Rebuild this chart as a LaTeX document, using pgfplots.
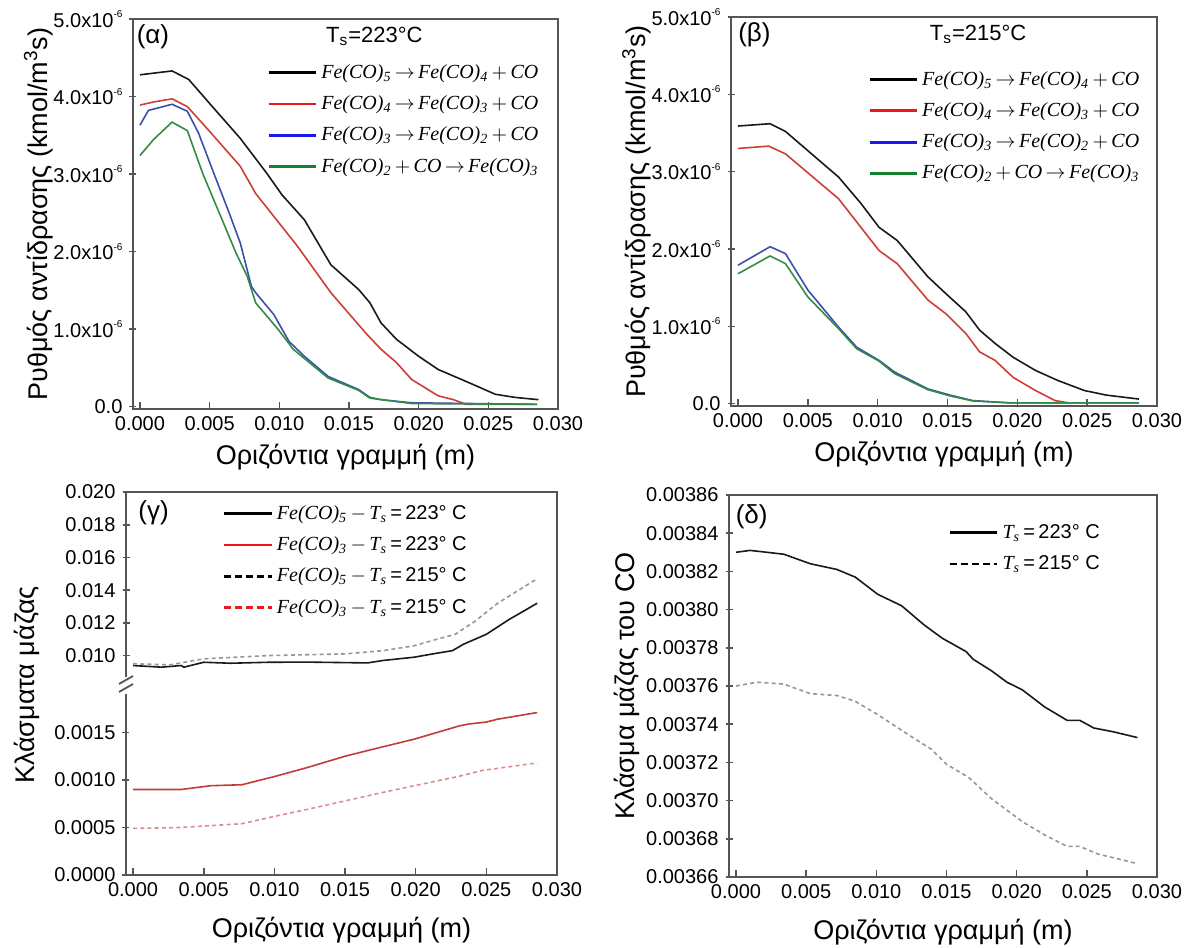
\documentclass[border=0pt]{standalone}
\usepackage{fontspec}
\setmainfont{Liberation Sans}
\newfontfamily\tms{Liberation Serif}
\usepackage{pgfplots}
\pgfplotsset{compat=1.18}

\definecolor{plred}{RGB}{205,62,55}
\definecolor{plblue}{RGB}{60,80,170}
\definecolor{plgreen}{RGB}{50,140,70}
\definecolor{lgred}{RGB}{235,25,25}
\definecolor{lgblue}{RGB}{25,25,235}
\definecolor{lggreen}{RGB}{20,130,45}
\definecolor{gred}{RGB}{190,62,55}
\definecolor{gpink}{RGB}{222,140,140}
\definecolor{ggray}{RGB}{150,150,150}
\definecolor{axc}{RGB}{85,85,85}

\newcommand{\fe}[1]{{\tms\itshape Fe(CO)\textsubscript{#1}}}
\newcommand{\co}{{\tms\itshape CO}}
\newcommand{\ts}{{\tms\itshape T\textsubscript{s}}}
\newcommand{\tsix}{x10\raisebox{0.9ex}{\fontsize{5}{5}\selectfont -6}}

\pgfplotsset{
  base/.style={
    scale only axis,
    xmin=-0.0005, xmax=0.030,
    xtick={0,0.005,0.010,0.015,0.020,0.025,0.030},
    scaled ticks=false,
    xticklabel style={/pgf/number format/.cd,fixed,fixed zerofill,precision=3,assume math mode=true},
    tick label style={font=\fontsize{10}{12}\selectfont},
    label style={font=\fontsize{13.5}{16}\selectfont},
    axis line style={axc, line width=0.9pt},
    xtick pos=bottom, ytick pos=left,
    xtick align=inside, ytick align=center,
    major tick length=3.5pt,
    tick style={axc, line width=0.8pt},
    legend cell align=left,
    legend style={draw=none, fill=none, font=\fontsize{10}{12}\selectfont, row sep=3.2pt, inner sep=0pt},
    legend image code/.code={\draw[#1, line width=1.4pt] (0cm,0cm) -- (0.83cm,0cm);},
    every axis plot/.append style={line width=0.8pt},
    clip=false,
  }
}

\begin{document}
\begin{tikzpicture}
\path[use as bounding box] (0,0) rectangle (592pt,474pt);

% ---------------- (alpha)
\begin{axis}[base, at={(66.5pt,269.5pt)}, anchor=south west, width=212.5pt, height=195pt,
  ymin=-0.03e-6, ymax=5e-6,
  ytick={0,1e-6,2e-6,3e-6,4e-6,5e-6},
  yticklabels={0.0,1.0\tsix,2.0\tsix,3.0\tsix,4.0\tsix,5.0\tsix},
  xlabel={Οριζόντια γραμμή (m)},
  ylabel={Ρυθμός αντίδρασης (kmol/m\textsuperscript{3}s)},
  xlabel style={at={(axis description cs:0.5,0)}, anchor=center, yshift=-24pt},
  ylabel style={at={(axis description cs:-0.222,0.5)}, anchor=center},
  legend style={at={(axis description cs:0.315,0.895)}, anchor=north west},
]
\addplot[black!90, forget plot] coordinates {(0,4.28e-6)(0.0023,4.33e-6)(0.0035,4.22e-6)(0.0050,3.91e-6)(0.0072,3.46e-6)(0.0091,3.01e-6)(0.0102,2.73e-6)(0.0118,2.41e-6)(0.0137,1.83e-6)(0.0157,1.51e-6)(0.0165,1.34e-6)(0.0173,1.08e-6)(0.0184,0.87e-6)(0.0200,0.65e-6)(0.0214,0.48e-6)(0.0236,0.31e-6)(0.0255,0.16e-6)(0.0269,0.12e-6)(0.0286,0.09e-6)};
\addplot[plred, forget plot] coordinates {(0,3.89e-6)(0.0010,3.93e-6)(0.0023,3.97e-6)(0.0034,3.87e-6)(0.0050,3.55e-6)(0.0072,3.10e-6)(0.0083,2.75e-6)(0.0113,2.07e-6)(0.0137,1.47e-6)(0.0162,0.95e-6)(0.0173,0.74e-6)(0.0184,0.57e-6)(0.0195,0.35e-6)(0.0214,0.14e-6)(0.0225,0.09e-6)(0.0234,0.03e-6)(0.0277,0.03e-6)};
\addplot[plblue, forget plot] coordinates {(0,3.63e-6)(0.0006,3.82e-6)(0.0023,3.90e-6)(0.0034,3.81e-6)(0.0042,3.53e-6)(0.0053,3.01e-6)(0.0064,2.50e-6)(0.0072,2.11e-6)(0.0080,1.55e-6)(0.0083,1.47e-6)(0.0096,1.19e-6)(0.0107,0.84e-6)(0.0118,0.65e-6)(0.0135,0.39e-6)(0.0157,0.22e-6)(0.0165,0.12e-6)(0.0173,0.09e-6)(0.0195,0.05e-6)(0.0285,0.03e-6)};
\addplot[plgreen, forget plot] coordinates {(0,3.24e-6)(0.0010,3.45e-6)(0.0023,3.67e-6)(0.0034,3.56e-6)(0.0045,3.01e-6)(0.0055,2.58e-6)(0.0069,1.98e-6)(0.0077,1.68e-6)(0.0083,1.34e-6)(0.0099,1.00e-6)(0.0110,0.74e-6)(0.0135,0.37e-6)(0.0157,0.21e-6)(0.0165,0.11e-6)(0.0195,0.04e-6)(0.0285,0.03e-6)};
\addlegendimage{black}
\addlegendentry{\fe{5}\,$\rightarrow$\,\fe{4}\,$+$\,\co}
\addlegendimage{lgred}
\addlegendentry{\fe{4}\,$\rightarrow$\,\fe{3}\,$+$\,\co}
\addlegendimage{lgblue}
\addlegendentry{\fe{3}\,$\rightarrow$\,\fe{2}\,$+$\,\co}
\addlegendimage{lggreen}
\addlegendentry{\fe{2}\,$+$\,\co\,$\rightarrow$\,\fe{3}}
\node[font=\fontsize{13}{15}\selectfont] at (axis description cs:0.047,0.954) {(α)};
\node[font=\fontsize{11}{13}\selectfont] at (axis description cs:0.568,0.955) {T\textsubscript{s}=223°C};
\end{axis}

% ---------------- (beta)
\begin{axis}[base, at={(365.5pt,271pt)}, anchor=south west, width=213pt, height=194.5pt,
  ymin=-0.03e-6, ymax=5e-6,
  ytick={0,1e-6,2e-6,3e-6,4e-6,5e-6},
  yticklabels={0.0,1.0\tsix,2.0\tsix,3.0\tsix,4.0\tsix,5.0\tsix},
  xlabel={Οριζόντια γραμμή (m)},
  ylabel={Ρυθμός αντίδρασης (kmol/m\textsuperscript{3}s)},
  xlabel style={at={(axis description cs:0.5,0)}, anchor=center, yshift=-24pt},
  ylabel style={at={(axis description cs:-0.221,0.5)}, anchor=center},
  legend style={at={(axis description cs:0.321,0.872)}, anchor=north west},
]
\addplot[black!90, forget plot] coordinates {(0,3.59e-6)(0.0023,3.62e-6)(0.0034,3.52e-6)(0.0072,2.93e-6)(0.0088,2.59e-6)(0.0101,2.28e-6)(0.0114,2.11e-6)(0.0136,1.64e-6)(0.0149,1.42e-6)(0.0163,1.19e-6)(0.0173,0.95e-6)(0.0184,0.78e-6)(0.0197,0.60e-6)(0.0213,0.43e-6)(0.0229,0.30e-6)(0.0248,0.17e-6)(0.0264,0.11e-6)(0.0287,0.06e-6)};
\addplot[plred, forget plot] coordinates {(0,3.30e-6)(0.0022,3.33e-6)(0.0034,3.23e-6)(0.0072,2.65e-6)(0.0088,2.28e-6)(0.0101,1.98e-6)(0.0114,1.81e-6)(0.0136,1.34e-6)(0.0149,1.16e-6)(0.0163,0.91e-6)(0.0173,0.67e-6)(0.0184,0.56e-6)(0.0197,0.34e-6)(0.0213,0.17e-6)(0.0227,0.04e-6)(0.0237,0.01e-6)};
\addplot[plblue, forget plot] coordinates {(0,1.79e-6)(0.0023,2.03e-6)(0.0034,1.94e-6)(0.0050,1.47e-6)(0.0072,0.99e-6)(0.0085,0.73e-6)(0.0101,0.56e-6)(0.0112,0.41e-6)(0.0136,0.19e-6)(0.0152,0.11e-6)(0.0168,0.04e-6)(0.0195,0.01e-6)(0.0287,0.01e-6)};
\addplot[plgreen, forget plot] coordinates {(0,1.68e-6)(0.0023,1.91e-6)(0.0034,1.81e-6)(0.0050,1.38e-6)(0.0072,0.97e-6)(0.0085,0.71e-6)(0.0101,0.55e-6)(0.0112,0.39e-6)(0.0136,0.18e-6)(0.0152,0.10e-6)(0.0168,0.035e-6)(0.0195,0.01e-6)(0.0287,0.01e-6)};
\addlegendimage{black}
\addlegendentry{\fe{5}\,$\rightarrow$\,\fe{4}\,$+$\,\co}
\addlegendimage{lgred}
\addlegendentry{\fe{4}\,$\rightarrow$\,\fe{3}\,$+$\,\co}
\addlegendimage{lgblue}
\addlegendentry{\fe{3}\,$\rightarrow$\,\fe{2}\,$+$\,\co}
\addlegendimage{lggreen}
\addlegendentry{\fe{2}\,$+$\,\co\,$\rightarrow$\,\fe{3}}
\node[font=\fontsize{13}{15}\selectfont] at (axis description cs:0.055,0.954) {(β)};
\node[font=\fontsize{11}{13}\selectfont] at (axis description cs:0.58,0.955) {T\textsubscript{s}=215°C};
\end{axis}

% ---------------- (gamma) upper part
\begin{axis}[base, at={(63pt,131.5pt)}, anchor=south west, width=215.5pt, height=96.5pt,
  ymin=0.0082, ymax=0.020,
  ytick={0.010,0.012,0.014,0.016,0.018,0.020},
  yticklabel style={/pgf/number format/.cd,fixed,fixed zerofill,precision=3,assume math mode=true},
  xtick=\empty,
  axis line style={draw=none},
  legend style={at={(axis description cs:0.224,0.955)}, anchor=north west},
]
\addplot[black!90, forget plot] coordinates {(0,0.00939)(0.0020,0.00929)(0.0034,0.00939)(0.0036,0.00929)(0.0050,0.00959)(0.0069,0.00953)(0.0096,0.00959)(0.0123,0.00960)(0.0166,0.00955)(0.0177,0.00970)(0.0199,0.00990)(0.0212,0.01010)(0.0226,0.01030)(0.0234,0.01070)(0.0250,0.01130)(0.0266,0.01220)(0.0286,0.01320)};
\addplot[ggray, dash pattern=on 2pt off 1.6pt, forget plot] coordinates {(0,0.00950)(0.0026,0.00943)(0.0050,0.00980)(0.0096,0.01000)(0.0150,0.01010)(0.0177,0.01030)(0.0199,0.01060)(0.0215,0.01100)(0.0228,0.01130)(0.0242,0.01210)(0.0258,0.01320)(0.0286,0.01470)};
\addlegendimage{black}
\addlegendentry{\fe{5}\,$-$\,\ts\,=\,223° C}
\addlegendimage{lgred}
\addlegendentry{\fe{3}\,$-$\,\ts\,=\,223° C}
\addlegendimage{black, dash pattern=on 3.5pt off 2pt}
\addlegendentry{\fe{5}\,$-$\,\ts\,=\,215° C}
\addlegendimage{lgred, dash pattern=on 3.5pt off 2pt}
\addlegendentry{\fe{3}\,$-$\,\ts\,=\,215° C}
\draw[axc, line width=0.9pt] (rel axis cs:0,0.04) -- (rel axis cs:0,1) -- (rel axis cs:1,1) -- (rel axis cs:1,0);
\draw[axc, line width=0.9pt] ([xshift=-3.5pt,yshift=0.5pt]rel axis cs:0,0) -- ++(7pt,4pt);
\draw[axc, line width=0.9pt] ([xshift=-3.5pt,yshift=-3.5pt]rel axis cs:0,0) -- ++(7pt,4pt);
\node[font=\fontsize{13}{15}\selectfont] at (axis description cs:0.064,0.89) {(γ)};
\end{axis}

% ---------------- (gamma) lower part
\begin{axis}[base, at={(63pt,36.5pt)}, anchor=south west, width=215.5pt, height=95pt,
  ymin=0, ymax=0.0020,
  ytick={0,0.0005,0.0010,0.0015},
  yticklabel style={/pgf/number format/.cd,fixed,fixed zerofill,precision=4,assume math mode=true},
  axis line style={draw=none},
  xlabel={Οριζόντια γραμμή (m)},
  ylabel={Κλάσματα μάζας},
  xlabel style={at={(axis description cs:0.5,0)}, anchor=center, yshift=-27.5pt},
  ylabel style={at={(axis description cs:-0.23,1.0)}, anchor=center},
]
\addplot[gred] coordinates {(0,0.00090)(0.0034,0.00090)(0.0055,0.00094)(0.0077,0.00095)(0.0101,0.00104)(0.0123,0.00113)(0.0150,0.00125)(0.0166,0.00131)(0.0199,0.00143)(0.0231,0.00157)(0.0238,0.00159)(0.0250,0.00161)(0.0258,0.00164)(0.0286,0.00171)};
\addplot[gpink, dash pattern=on 2pt off 1.6pt] coordinates {(0,0.00049)(0.0034,0.00050)(0.0077,0.00054)(0.0101,0.00062)(0.0123,0.00069)(0.0150,0.00078)(0.0177,0.00087)(0.0199,0.00094)(0.0231,0.00104)(0.0247,0.00110)(0.0286,0.00118)};
\draw[axc, line width=0.9pt] (rel axis cs:0,0.955) -- (rel axis cs:0,0) -- (rel axis cs:1,0) -- (rel axis cs:1,1);
\end{axis}

% ---------------- (delta)
\begin{axis}[base, at={(364.5pt,35.5pt)}, anchor=south west, width=214pt, height=191pt,
  ymin=0.00366, ymax=0.00386,
  ytick={0.00366,0.00368,0.00370,0.00372,0.00374,0.00376,0.00378,0.00380,0.00382,0.00384,0.00386},
  yticklabel style={/pgf/number format/.cd,fixed,fixed zerofill,precision=5,assume math mode=true},
  xlabel={Οριζόντια γραμμή (m)},
  ylabel={Κλάσμα μάζας του CO},
  xlabel style={at={(axis description cs:0.5,0)}, anchor=center, yshift=-27.5pt},
  ylabel style={at={(axis description cs:-0.238,0.5)}, anchor=center},
  legend style={at={(axis description cs:0.512,0.935)}, anchor=north west},
]
\addplot[black!90, forget plot] coordinates {(0,0.003830)(0.0010,0.003831)(0.0034,0.003829)(0.0053,0.003824)(0.0072,0.003821)(0.0085,0.003817)(0.0101,0.003808)(0.0118,0.003802)(0.0134,0.003792)(0.0147,0.003785)(0.0164,0.003778)(0.0169,0.003774)(0.0182,0.003768)(0.0193,0.003762)(0.0204,0.003758)(0.0220,0.003749)(0.0236,0.003742)(0.0245,0.003742)(0.0255,0.003738)(0.0269,0.003736)(0.0286,0.003733)};
\addplot[ggray, dash pattern=on 2pt off 1.6pt, forget plot] coordinates {(0,0.003760)(0.0015,0.003762)(0.0034,0.003761)(0.0053,0.003756)(0.0072,0.003755)(0.0085,0.003752)(0.0101,0.003745)(0.0126,0.003733)(0.0139,0.003727)(0.0150,0.003719)(0.0166,0.003712)(0.0182,0.003701)(0.0204,0.003689)(0.0220,0.003682)(0.0236,0.003676)(0.0245,0.003676)(0.0258,0.003672)(0.0286,0.003667)};
\addlegendimage{black}
\addlegendentry{\ts\,=\,223° C}
\addlegendimage{black, dash pattern=on 3.5pt off 2pt}
\addlegendentry{\ts\,=\,215° C}
\node[font=\fontsize{13}{15}\selectfont] at (axis description cs:0.053,0.942) {(δ)};
\end{axis}
\end{tikzpicture}
\end{document}
